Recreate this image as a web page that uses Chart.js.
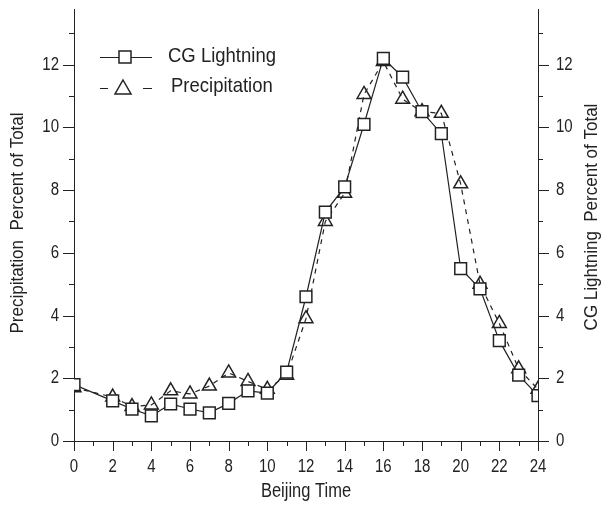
<!DOCTYPE html>
<html>
<head>
<meta charset="utf-8">
<script src="https://cdn.jsdelivr.net/npm/chart.js@4"></script>
<style>
  html, body { margin: 0; padding: 0; background: #fff; }
  #wrap { width: 601px; height: 506px; }
</style>
</head>
<body>
<div id="wrap"><canvas id="cvs" width="601" height="506"></canvas></div>
<script>
const hours = [0,1,2,3,4,5,6,7,8,9,10,11,12,13,14,15,16,17,18,19,20,21,22,23,24];
const lightning = [1.8,null,1.28,1.02,0.8,1.18,1.02,0.9,1.2,1.6,1.53,2.2,4.6,7.3,8.1,10.1,12.2,11.6,10.5,9.8,5.5,4.85,3.2,2.1,1.45];
const precipitation = [1.7,null,1.4,1.1,1.15,1.6,1.5,1.75,2.17,1.9,1.65,2.1,3.9,7.0,7.9,11.05,12.1,10.9,10.5,10.45,8.2,5.0,3.75,2.3,1.65];
const xTicks = [0,2,4,6,8,10,12,14,16,18,20,22,24];
const yTicks = [0,2,4,6,8,10,12];

const FONT = '"Liberation Sans", Arial, sans-serif';
const INK = '#222';

// text a bit taller than wide, like the scanned figure
function tallText(ctx, txt, x, y, size, stretch, rot) {
  ctx.save();
  ctx.translate(x, y);
  if (rot) ctx.rotate(rot);
  ctx.scale(1, stretch);
  ctx.font = size + 'px ' + FONT;
  ctx.fillText(txt, 0, 0);
  ctx.restore();
}

const decor = {
  id: 'decor',
  afterDraw(chart) {
    const ctx = chart.ctx, a = chart.chartArea;
    const x = chart.scales.x, y = chart.scales.y, y2 = chart.scales.y2;
    ctx.save();
    ctx.strokeStyle = INK;
    ctx.lineWidth = 1;
    ctx.beginPath();
    for (let h = 0; h <= 24; h++) {
      const px = Math.round(x.getPixelForValue(h)) + 0.5;
      const len = h % 2 === 0 ? 10 : 5;
      ctx.moveTo(px, a.bottom); ctx.lineTo(px, a.bottom + len);
    }
    for (let v = 0; v <= 13; v++) {
      const py = Math.round(y.getPixelForValue(v)) + 0.5;
      const len = v % 2 === 0 ? 11 : 5;
      ctx.moveTo(a.left, py); ctx.lineTo(a.left - len, py);
      const py2 = Math.round(y2.getPixelForValue(v)) + 0.5;
      ctx.moveTo(a.right, py2); ctx.lineTo(a.right + len, py2);
    }
    ctx.stroke();

    // tick labels
    ctx.fillStyle = INK;
    ctx.textBaseline = 'middle';
    ctx.textAlign = 'center';
    xTicks.forEach(v => tallText(ctx, String(v), x.getPixelForValue(v), 467, 15, 1.2));
    ctx.textAlign = 'right';
    yTicks.forEach(v => tallText(ctx, String(v), 59, y.getPixelForValue(v), 15, 1.2));
    ctx.textAlign = 'left';
    yTicks.forEach(v => tallText(ctx, String(v), 556, y2.getPixelForValue(v), 15, 1.2));

    // axis titles
    ctx.textAlign = 'center';
    tallText(ctx, 'Beijing Time', (a.left + a.right) / 2, 492, 16.5, 1.2);
    tallText(ctx, 'Precipitation  Percent of Total', 18, 223, 17, 1.1, -Math.PI / 2);
    tallText(ctx, 'CG Lightning  Percent of Total', 592, 217, 17, 1.1, -Math.PI / 2);

    // legend
    ctx.beginPath();
    ctx.moveTo(100, 57.5); ctx.lineTo(152, 57.5);
    ctx.stroke();
    ctx.fillStyle = '#fff';
    ctx.lineWidth = 1.5;
    ctx.fillRect(119, 51, 12, 12);
    ctx.strokeRect(119, 51, 12, 12);
    ctx.lineWidth = 1;
    ctx.beginPath();
    ctx.moveTo(100, 88.5); ctx.lineTo(108, 88.5);
    ctx.moveTo(143, 88.5); ctx.lineTo(152, 88.5);
    ctx.stroke();
    ctx.lineWidth = 1.5;
    ctx.beginPath();
    ctx.moveTo(123, 80); ctx.lineTo(131, 94); ctx.lineTo(115, 94); ctx.closePath();
    ctx.fill(); ctx.stroke();
    ctx.fillStyle = INK;
    ctx.textAlign = 'left';
    tallText(ctx, 'CG Lightning', 168, 56, 18.5, 1.1);
    tallText(ctx, 'Precipitation', 171, 86, 18.5, 1.1);
    ctx.restore();
  }
};

const noPad = s => { s.paddingTop = 0; s.paddingBottom = 0; s.paddingLeft = 0; s.paddingRight = 0; };

new Chart(document.getElementById('cvs'), {
  type: 'line',
  data: {
    labels: hours,
    datasets: [{
      label: 'CG Lightning',
      data: lightning,
      yAxisID: 'y2',
      borderColor: INK,
      borderWidth: 1.2,
      pointStyle: 'rect',
      pointRadius: 8.3,
      pointBackgroundColor: '#fff',
      pointBorderColor: INK,
      pointBorderWidth: 1.5,
      spanGaps: true,
      tension: 0
    }, {
      label: 'Precipitation',
      data: precipitation,
      yAxisID: 'y',
      borderColor: INK,
      borderWidth: 1.2,
      borderDash: [5, 5],
      pointStyle: 'triangle',
      pointRadius: 8,
      pointBackgroundColor: 'rgba(255,255,255,0)',
      pointBorderColor: INK,
      pointBorderWidth: 1.5,
      spanGaps: true,
      tension: 0
    }]
  },
  options: {
    responsive: false,
    animation: false,
    layout: { padding: { top: 8, left: 0, right: 0, bottom: 0 } },
    plugins: { legend: { display: false }, tooltip: { enabled: false } },
    scales: {
      x: {
        type: 'linear', min: 0, max: 24,
        afterBuildTicks: s => { s.ticks = xTicks.map(v => ({ value: v })); },
        afterFit: s => { s.height = 65; noPad(s); },
        grid: { display: true, drawOnChartArea: false, drawTicks: false },
        border: { display: true, color: INK, width: 1 },
        ticks: { display: false }
      },
      y: {
        position: 'left', min: 0, max: 13.75,
        afterBuildTicks: s => { s.ticks = yTicks.map(v => ({ value: v })); },
        afterFit: s => { s.width = 74; noPad(s); },
        grid: { display: true, drawOnChartArea: false, drawTicks: false },
        border: { display: true, color: INK, width: 1 },
        ticks: { display: false }
      },
      y2: {
        position: 'right', min: 0, max: 13.75,
        afterBuildTicks: s => { s.ticks = yTicks.map(v => ({ value: v })); },
        afterFit: s => { s.width = 63; noPad(s); },
        grid: { display: true, drawOnChartArea: false, drawTicks: false },
        border: { display: true, color: INK, width: 1 },
        ticks: { display: false }
      }
    }
  },
  plugins: [decor]
});
</script>
</body>
</html>
